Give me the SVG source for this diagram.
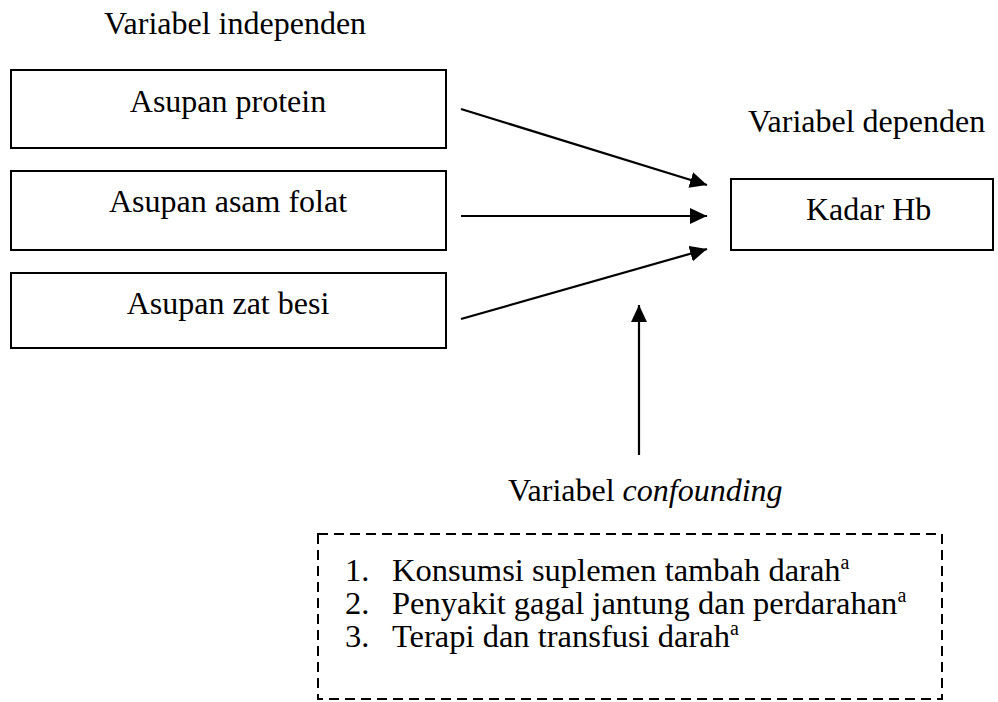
<svg xmlns="http://www.w3.org/2000/svg" width="998" height="702" viewBox="0 0 998 702">
<style>
text{font-family:"Liberation Serif","Times New Roman",serif;font-size:32px;fill:#000}
.box{fill:#fff;stroke:#000;stroke-width:2}
.dash{fill:none;stroke:#000;stroke-width:2;stroke-dasharray:10 6}
.conn{stroke:#000;stroke-width:2.2;fill:none;marker-end:url(#ah)}
.li{font-size:32.5px}
.sup{font-size:20px}
</style>
<defs>
<marker id="ah" markerUnits="userSpaceOnUse" markerWidth="18" markerHeight="16" refX="17" refY="8" orient="auto">
<path d="M0,0 L17,8 L0,16 Z" fill="#000"/>
</marker>
</defs>
<rect width="998" height="702" fill="#fff"/>
<text x="104" y="34">Variabel independen</text>
<text x="748" y="132">Variabel dependen</text>
<g id="n-protein">
<rect class="box" x="11" y="70" width="435" height="78"/>
<text x="228" y="112" text-anchor="middle">Asupan protein</text>
</g>
<g id="n-folat">
<rect class="box" x="11" y="171" width="435" height="79"/>
<text x="228" y="212" text-anchor="middle">Asupan asam folat</text>
</g>
<g id="n-besi">
<rect class="box" x="11" y="273" width="435" height="75"/>
<text x="228" y="314" text-anchor="middle">Asupan zat besi</text>
</g>
<g id="n-hb">
<rect class="box" x="731" y="179" width="262" height="71"/>
<text x="806" y="220">Kadar Hb</text>
</g>
<g id="n-confounding">
<text x="508" y="501">Variabel <tspan font-style="italic">confounding</tspan></text>
<rect class="dash" x="318" y="534" width="624" height="165"/>
<text class="li" x="345" y="581">1.</text><text class="li" x="392" y="581">Konsumsi suplemen tambah darah<tspan class="sup" dy="-12">a</tspan></text>
<text class="li" x="345" y="614">2.</text><text class="li" x="392" y="614">Penyakit gagal jantung dan perdarahan<tspan class="sup" dy="-12">a</tspan></text>
<text class="li" x="345" y="647">3.</text><text class="li" x="392" y="647">Terapi dan transfusi darah<tspan class="sup" dy="-12">a</tspan></text>
</g>
<g id="connectors">
<line class="conn" x1="461" y1="109" x2="707" y2="185"/>
<line class="conn" x1="461" y1="216" x2="707" y2="216"/>
<line class="conn" x1="461" y1="319" x2="707" y2="249"/>
<line class="conn" x1="639" y1="455" x2="639" y2="305"/>
</g>
</svg>
